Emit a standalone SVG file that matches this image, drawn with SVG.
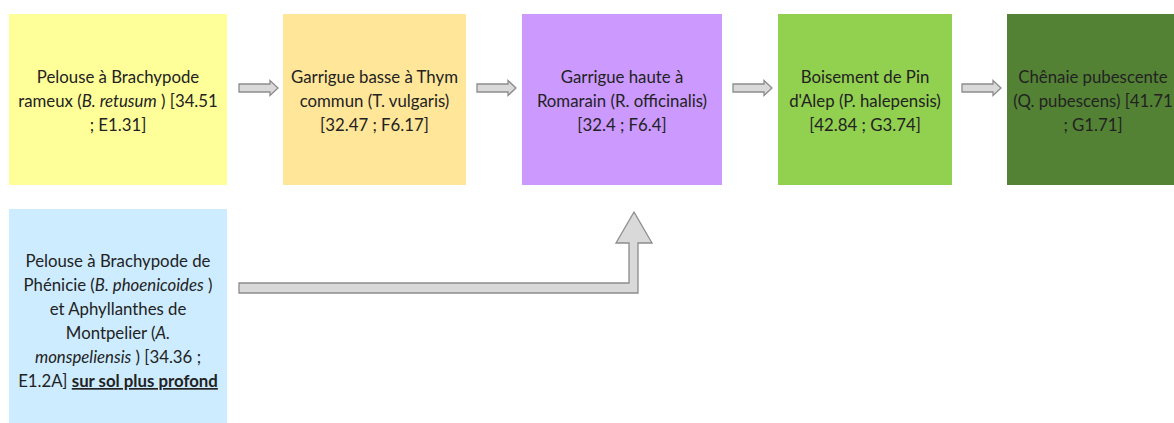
<svg xmlns="http://www.w3.org/2000/svg" width="1174" height="423" viewBox="0 0 1174 423">
  <style>
    .lbl { font-family: Lato, "Open Sans", "Liberation Sans", sans-serif; font-size: 16.8px; fill: #222222; text-anchor: middle; }
    .it { font-style: italic; }
    .b { font-weight: bold; text-decoration: underline; }
    .arrow { fill: #d9d9d9; stroke: #8c8c8c; stroke-width: 1.3; stroke-linejoin: miter; }
  </style>
  <defs>
    <path id="small-arrow" d="M0,-4 H31 V-7.5 L39,0 L31,7.5 V4 H0 Z"/>
  </defs>
  <rect width="1174" height="423" fill="#ffffff"/>

  <g id="pelouse-retusum">
    <rect x="9" y="14" width="218" height="171" fill="#ffff99"/>
    <text class="lbl" x="118" y="83">Pelouse à Brachypode</text>
    <text class="lbl" x="118" y="107">rameux (<tspan class="it">B. retusum</tspan> ) [34.51</text>
    <text class="lbl" x="118" y="131">; E1.31]</text>
  </g>

  <g id="garrigue-basse">
    <rect x="283" y="14" width="183" height="171" fill="#ffe699"/>
    <text class="lbl" x="374.5" y="83">Garrigue basse à Thym</text>
    <text class="lbl" x="374.5" y="107">commun (T. vulgaris)</text>
    <text class="lbl" x="374.5" y="131">[32.47 ; F6.17]</text>
  </g>

  <g id="garrigue-haute">
    <rect x="522" y="14" width="200" height="171" fill="#cc99ff"/>
    <text class="lbl" x="622" y="83">Garrigue haute à</text>
    <text class="lbl" x="622" y="107">Romarain (R. officinalis)</text>
    <text class="lbl" x="622" y="131">[32.4 ; F6.4]</text>
  </g>

  <g id="pin-alep">
    <rect x="778" y="14" width="174" height="171" fill="#92d050"/>
    <text class="lbl" x="865" y="83">Boisement de Pin</text>
    <text class="lbl" x="865" y="107">d'Alep (P. halepensis)</text>
    <text class="lbl" x="865" y="131">[42.84 ; G3.74]</text>
  </g>

  <g id="chenaie">
    <rect x="1007" y="14" width="172" height="171" fill="#548235"/>
    <text class="lbl" x="1093" y="83">Chênaie pubescente</text>
    <text class="lbl" x="1093" y="107">(Q. pubescens) [41.71</text>
    <text class="lbl" x="1093" y="131">; G1.71]</text>
  </g>

  <g id="pelouse-phoenicoides">
    <rect x="9" y="209" width="218" height="214" fill="#cdecff"/>
    <text class="lbl" x="118" y="267">Pelouse à Brachypode de</text>
    <text class="lbl" x="118" y="291">Phénicie (<tspan class="it">B. phoenicoides</tspan> )</text>
    <text class="lbl" x="118" y="315">et Aphyllanthes de</text>
    <text class="lbl" x="118" y="339">Montpelier (<tspan class="it">A.</tspan></text>
    <text class="lbl" x="118" y="363"><tspan class="it">monspeliensis</tspan> ) [34.36 ;</text>
    <text class="lbl" x="118" y="387">E1.2A] <tspan class="b">sur sol plus profond</tspan></text>
  </g>

  <g id="connectors">
    <use href="#small-arrow" class="arrow" transform="translate(239,88)"/>
    <use href="#small-arrow" class="arrow" transform="translate(477,88)"/>
    <use href="#small-arrow" class="arrow" transform="translate(733,88)"/>
    <use href="#small-arrow" class="arrow" transform="translate(962,88)"/>
    <path class="arrow" d="M239,283 H629 V243 H616 L634,212 L652,243 H638 V293 H239 Z"/>
  </g>
</svg>
